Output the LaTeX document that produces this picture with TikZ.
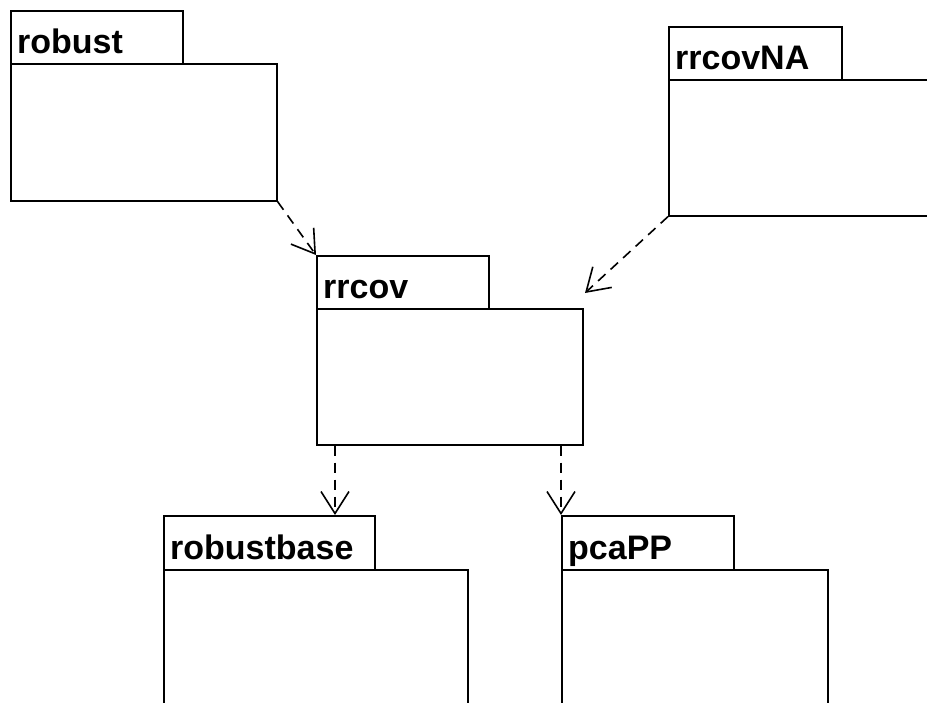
\documentclass[tikz,border=0pt]{standalone}
\usepackage{fontspec}
\setmainfont{Liberation Sans}
\usetikzlibrary{arrows.meta}
\begin{document}
\begin{tikzpicture}[x=1pt,y=-1pt,
  pkg/.style={draw, line width=1.6pt, fill=white, inner sep=0pt, anchor=north west, rectangle},
  lbl/.style={anchor=base west, inner sep=0pt, font=\fontsize{34}{38}\selectfont\bfseries},
  dep/.style={line width=1.6pt, dash pattern=on 10pt off 7pt, -{Straight Barb[length=22pt,width=28pt,line width=1.6pt]}}]
\useasboundingbox (0,0) rectangle (927,702);
\clip (0,0) rectangle (927,702);
% robust
\node[pkg, minimum width=266pt, minimum height=137pt] (robB) at (10,63) {};
\node[pkg, minimum width=172pt, minimum height=53pt] (robT) at (10,10) {};
\node[lbl] (robL) at (17,53) {robust};
% rrcovNA
\node[pkg, minimum width=300pt, minimum height=136pt] (naB) at (668,79) {};
\node[pkg, minimum width=173pt, minimum height=53pt] (naT) at (668,26) {};
\node[lbl] (naL) at (675,69) {rrcovNA};
% rrcov
\node[pkg, minimum width=266pt, minimum height=136pt] (rrB) at (316,308) {};
\node[pkg, minimum width=172pt, minimum height=53pt] (rrT) at (316,255) {};
\node[lbl] (rrL) at (323,298) {rrcov};
% robustbase
\node[pkg, minimum width=304pt, minimum height=200pt] (rbB) at (163,569) {};
\node[pkg, minimum width=211pt, minimum height=54pt] (rbT) at (163,515) {};
\node[lbl] (rbL) at (170,559) {robustbase};
% pcaPP
\node[pkg, minimum width=266pt, minimum height=200pt] (ppB) at (561,569) {};
\node[pkg, minimum width=172pt, minimum height=54pt] (ppT) at (561,515) {};
\node[lbl] (ppL) at (568,559) {pcaPP};
% dependencies
\coordinate (naTip) at (585,293);
\draw[dep] (robB.south east) -- (rrT.north west);
\draw[dep] (naB.south west) -- (naTip);
\draw[dep] ([xshift=19pt]rrB.south west) -- ([xshift=19pt]rrB.south west |- rbT.north);
\draw[dep] (ppT.north west |- rrB.south) -- (ppT.north west);
\end{tikzpicture}
\end{document}
